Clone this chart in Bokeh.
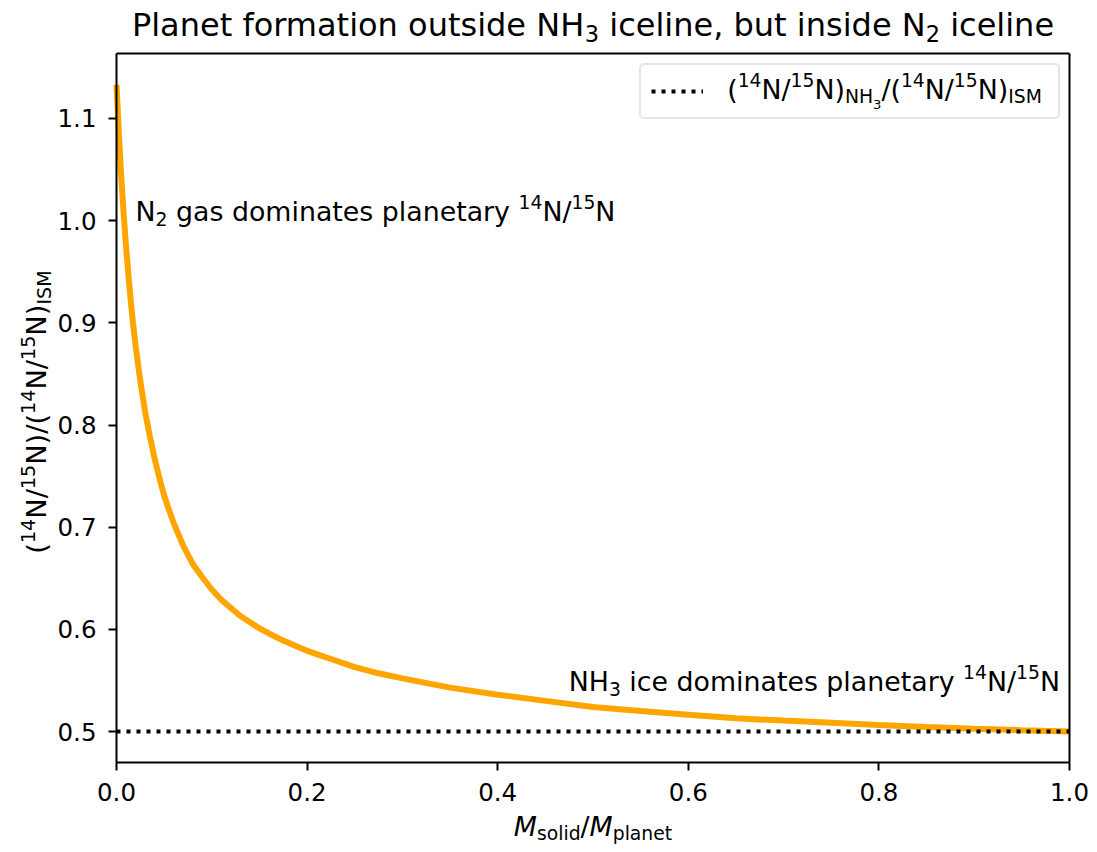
import math

from bokeh.embed import file_html
from bokeh.models import (FixedTicker, Label, Legend, LegendItem, LinearAxis,
                          NumeralTickFormatter, Range1d)
from bokeh.plotting import figure
from bokeh.resources import INLINE

# Solid mass fraction of the planet and the resulting bulk 14N/15N ratio,
# normalised to the ISM value.
mass_fraction = [0.0, 0.0025, 0.005, 0.0075, 0.01, 0.0125, 0.015, 0.0175,
                 0.02, 0.025, 0.03, 0.035, 0.04, 0.045, 0.05, 0.055, 0.06,
                 0.065, 0.07, 0.075, 0.08, 0.09, 0.10, 0.11, 0.12, 0.13, 0.14,
                 0.15, 0.16, 0.175, 0.19, 0.2, 0.225, 0.25, 0.275, 0.3, 0.35,
                 0.4, 0.45, 0.5, 0.55, 0.6, 0.65, 0.7, 0.75, 0.8, 0.85, 0.9,
                 0.95, 1.0]
ratio = [1.133, 1.085, 1.043, 1.007, 0.975, 0.947, 0.921, 0.898,
         0.878, 0.843, 0.813, 0.789, 0.767, 0.748, 0.731, 0.717, 0.704,
         0.693, 0.682, 0.673, 0.664, 0.651, 0.639, 0.629, 0.621, 0.613, 0.607,
         0.601, 0.596, 0.589, 0.583, 0.579, 0.571, 0.563, 0.557, 0.552, 0.543,
         0.536, 0.530, 0.524, 0.520, 0.5165, 0.513, 0.5107, 0.5085, 0.5063,
         0.5045, 0.5028, 0.5013, 0.500]

# NH3 ice ratio relative to ISM
nh3_ratio = 0.5
nh3_x = [0.0, 1.0]

x_ticks = [0.0, 0.2, 0.4, 0.6, 0.8, 1.0]
y_ticks = [0.5, 0.6, 0.7, 0.8, 0.9, 1.0, 1.1]

# axes box limits
X_LO, X_HI = 0.0, 1.0
Y_LO, Y_HI = 0.4697, 1.1636

# page size and the pixel margins around the axes box
W, H = 1097, 852
M_LEFT, M_RIGHT, M_TOP, M_BOTTOM = 116, 28, 53, 90

FONT = "DejaVu Sans"

# DejaVu Sans advance widths (em) used to lay out mixed sub/superscript text
ADV = {
    " ": 0.318, "(": 0.390, ")": 0.390, ",": 0.318, ".": 0.318, "/": 0.337,
    "0": 0.636, "1": 0.636, "2": 0.636, "3": 0.636, "4": 0.636, "5": 0.636,
    "H": 0.752, "I": 0.295, "M": 0.863, "N": 0.748, "P": 0.603, "S": 0.635,
    "a": 0.613, "b": 0.635, "c": 0.550, "d": 0.635, "e": 0.615, "f": 0.352,
    "g": 0.635, "h": 0.634, "i": 0.278, "l": 0.278, "m": 0.974, "n": 0.634,
    "o": 0.612, "p": 0.635, "r": 0.411, "s": 0.521, "t": 0.392, "u": 0.634,
    "y": 0.592,
}

# style -> (size scale, baseline shift in em of the base size, font style)
STYLE = {
    "": (1.0, 0.0, "normal"),
    "it": (1.0, 0.0, "italic"),
    "sup": (0.7, 0.45, "normal"),
    "sub": (0.7, -0.16, "normal"),
    "subsub": (0.49, -0.37, "normal"),
}

# baseline correction (em of each run's own size) for Label's anchor
BASE_FIX_H = 0.34
BASE_FIX_V = 0.45


def seg_width(text, size):
    return sum(ADV.get(c, 0.6) for c in text) * size


def rich_width(parts, size):
    return sum(seg_width(t, size * STYLE[s][0]) for t, s in parts)


def rich(plot, parts, size, x, y, units="screen", align="left", vertical=False):
    """Lay out runs of normal / sub / superscript text, one Label per run."""
    total = rich_width(parts, size)
    pos = {"left": 0.0, "center": -total / 2.0, "right": -total}[align]
    for text, style in parts:
        scale, shift, fstyle = STYLE[style]
        fs = size * scale
        body = text.strip()
        lead = seg_width(text[:len(text) - len(text.lstrip())], fs)
        along = pos + lead
        if vertical:
            x_off = -shift * size - BASE_FIX_V * fs
            y_off = along
        else:
            x_off = along
            y_off = shift * size + BASE_FIX_H * fs
        plot.add_layout(Label(
            x=x, y=y, x_units=units, y_units=units,
            x_offset=x_off, y_offset=y_off, text=body,
            angle=math.pi / 2 if vertical else 0.0,
            text_font=FONT, text_font_size=f"{fs:.2f}px",
            text_font_style=fstyle, text_color="black",
            text_align="left", text_baseline="alphabetic",
            level="overlay",
        ))
        pos += seg_width(text, fs)


# The plotting frame spans the whole page; the axes box sits inside it
# with the given margins, so titles and labels are drawn within the frame.
inner_w = W - M_LEFT - M_RIGHT
inner_h = H - M_TOP - M_BOTTOM
dx = (X_HI - X_LO) / inner_w
dy = (Y_HI - Y_LO) / inner_h

p = figure(
    width=W, height=H,
    x_range=Range1d(X_LO - M_LEFT * dx, X_HI + M_RIGHT * dx),
    y_range=Range1d(Y_LO - M_BOTTOM * dy, Y_HI + M_TOP * dy),
    output_backend="svg", toolbar_location=None,
    min_border=0, min_border_left=0, min_border_right=0,
    min_border_top=0, min_border_bottom=0,
)
p.title.visible = False
p.background_fill_color = "white"
p.border_fill_color = "white"
p.outline_line_color = None
p.xgrid.visible = False
p.ygrid.visible = False

xa, ya = p.xaxis[0], p.yaxis[0]
xa.fixed_location = Y_LO
xa.bounds = (X_LO, X_HI)
ya.fixed_location = X_LO
ya.bounds = (Y_LO, Y_HI)
for ax in (xa, ya):
    ax.axis_line_color = "black"
    ax.axis_line_width = 2
    ax.major_tick_line_color = "black"
    ax.major_tick_line_width = 2
    ax.major_tick_out = 8
    ax.major_tick_in = 0
    ax.minor_tick_line_color = None
    ax.major_label_text_font = FONT
    ax.major_label_text_font_size = "24.5px"
    ax.major_label_text_color = "black"
    ax.formatter = NumeralTickFormatter(format="0.0")
xa.ticker = FixedTicker(ticks=x_ticks)
ya.ticker = FixedTicker(ticks=y_ticks)
xa.major_label_standoff = 12
ya.major_label_standoff = 12

# top and right edges of the axes box
top_edge = LinearAxis(fixed_location=Y_HI, bounds=(X_LO, X_HI),
                      ticker=FixedTicker(ticks=[]), axis_line_width=2,
                      axis_line_color="black", major_tick_line_color=None,
                      minor_tick_line_color=None)
right_edge = LinearAxis(fixed_location=X_HI, bounds=(Y_LO, Y_HI),
                        ticker=FixedTicker(ticks=[]), axis_line_width=2,
                        axis_line_color="black", major_tick_line_color=None,
                        minor_tick_line_color=None)
p.add_layout(top_edge, "above")
p.add_layout(right_edge, "right")

p.line(mass_fraction, ratio, line_color="orange", line_width=6)
dotted = p.line(nh3_x, [nh3_ratio] * len(nh3_x), line_color="black",
                line_width=4, line_dash="4 6", line_cap="butt")

legend = Legend(
    items=[LegendItem(label=" ", renderers=[dotted])],
    location=(639, H - 119), orientation="vertical",
    padding=10, margin=0, spacing=0,
    glyph_width=52, glyph_height=32,
    label_width=345, label_height=32, label_standoff=0,
    label_text_font_size="2px",
    border_line_color="#cccccc", border_line_width=2,
    background_fill_alpha=0.0,
)
if "border_radius" in Legend.properties():
    legend.border_radius = 5
p.add_layout(legend)

LABEL = 26.8

# Title
rich(p, [("Planet formation outside NH", ""), ("3", "sub"),
         (" iceline, but inside N", ""), ("2", "sub"), (" iceline", "")],
     32, 592.5, H - 35, align="center")

# Axis labels
rich(p, [("M", "it"), ("solid", "sub"), ("/", ""), ("M", "it"),
         ("planet", "sub")],
     LABEL, 592.5, H - 835, align="center")
rich(p, [("(", ""), ("14", "sup"), ("N/", ""), ("15", "sup"), ("N)/(", ""),
         ("14", "sup"), ("N/", ""), ("15", "sup"), ("N)", ""), ("ISM", "sub")],
     27.3, 48.3, H - 411.5, align="center", vertical=True)

# Legend entry text
rich(p, [("(", ""), ("14", "sup"), ("N/", ""), ("15", "sup"), ("N)", ""),
         ("NH", "sub"), ("3", "subsub"), ("/(", ""), ("14", "sup"),
         ("N/", ""), ("15", "sup"), ("N)", ""), ("ISM", "sub")],
     LABEL, 726.7, H - 98.3)

# Regime annotations
rich(p, [("N", ""), ("2", "sub"), (" gas dominates planetary ", ""),
         ("14", "sup"), ("N/", ""), ("15", "sup"), ("N", "")],
     LABEL, 0.02, 1.0, units="data")
rich(p, [("NH", ""), ("3", "sub"), (" ice dominates planetary ", ""),
         ("14", "sup"), ("N/", ""), ("15", "sup"), ("N", "")],
     LABEL, 0.99, 0.54, units="data", align="right")

open("out.html", "w").write(file_html(p, INLINE))
